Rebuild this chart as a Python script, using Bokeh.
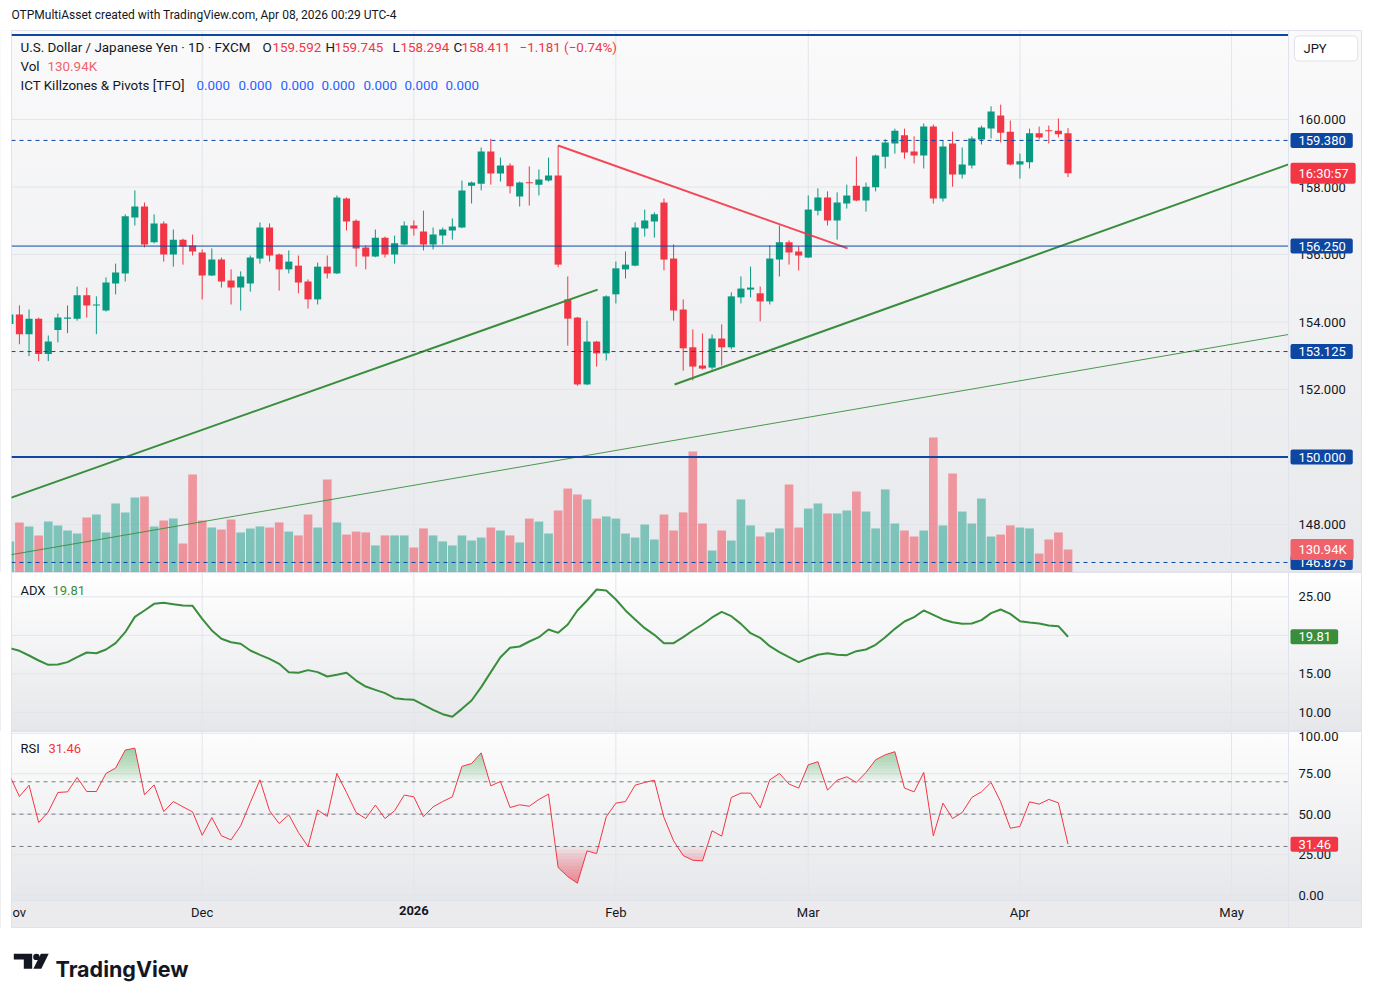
import numpy as np
from bokeh.plotting import figure
from bokeh.models import (Range1d, FixedTicker, Label, ColumnDataSource, Span, LinearAxis,
                          NumeralTickFormatter)
from bokeh.layouts import column
from bokeh.embed import file_html
from bokeh.resources import INLINE
from bokeh.core.properties import value

# ---------------- data ----------------
opens = [153.94, 154.22, 153.64, 154.10, 153.05, 153.76, 154.10, 154.10, 154.79, 154.49,
         154.34, 155.14, 155.44, 157.10, 157.42, 156.36, 156.92, 156.00, 156.44, 156.27,
         156.06, 155.38, 155.85, 155.23, 155.02, 155.14, 155.88, 156.80, 156.00, 155.56,
         155.67, 155.20, 154.67, 155.64, 155.44, 157.66, 157.00, 156.21, 155.94, 156.50,
         156.00, 156.30, 156.86, 156.68, 156.30, 156.56, 156.71, 156.80, 158.04, 158.10,
         159.05, 158.40, 158.64, 157.72, 158.13, 158.07, 158.19, 158.34, 154.67, 154.13,
         152.15, 153.42, 153.07, 154.82, 155.56, 155.67, 156.77, 156.98, 157.54, 155.88,
         154.37, 153.25, 152.71, 152.65, 153.51, 153.25, 154.73, 154.96, 154.85, 154.61,
         155.85, 156.36, 156.09, 155.91, 157.30, 157.69, 157.01, 157.51, 158.04, 157.60,
         157.99, 158.90, 159.29, 159.53, 159.05, 158.93, 159.79, 157.66, 159.29, 158.37,
         158.64, 159.41, 159.73, 160.12, 159.64, 158.67, 158.73, 159.59, 159.67, 159.67,
         159.592]
highs = [154.30, 154.49, 154.37, 154.13, 153.60, 154.25, 154.49, 155.05, 155.02, 154.76,
         155.32, 155.73, 157.19, 157.90, 157.54, 157.19, 156.98, 156.74, 156.47, 156.59,
         156.15, 156.18, 155.91, 155.56, 155.50, 155.97, 156.95, 156.92, 156.03, 156.12,
         155.97, 155.26, 155.76, 155.97, 157.75, 157.69, 157.04, 156.27, 156.74, 156.53,
         156.56, 156.98, 157.01, 157.30, 156.80, 156.80, 157.07, 158.19, 158.16, 159.17,
         159.43, 158.87, 158.70, 158.16, 158.61, 158.52, 158.87, 159.23, 155.35, 154.15,
         154.04, 153.44, 154.79, 155.79, 156.09, 156.95, 157.33, 157.25, 157.66, 156.30,
         154.67, 153.78, 153.66, 153.63, 153.93, 154.88, 155.35, 155.64, 155.05, 156.27,
         156.86, 156.42, 156.24, 157.75, 157.96, 157.87, 157.84, 158.07, 158.90, 158.13,
         158.96, 159.41, 159.73, 159.73, 159.50, 159.88, 159.85, 159.38, 159.64, 159.17,
         159.50, 159.82, 160.39, 160.44, 159.97, 158.99, 159.73, 159.79, 159.82, 160.03,
         159.745]
lows = [153.85, 153.34, 152.99, 152.84, 152.84, 153.40, 153.67, 154.04, 154.13, 153.64,
        154.31, 154.82, 155.20, 156.86, 156.21, 156.33, 155.79, 155.64, 155.70, 155.97,
        154.67, 155.36, 155.02, 154.52, 154.34, 154.90, 155.73, 155.79, 154.93, 155.44,
        154.85, 154.40, 154.52, 155.29, 155.42, 156.71, 155.64, 155.56, 155.92, 155.91,
        155.73, 156.27, 156.56, 156.12, 156.15, 156.30, 156.44, 156.78, 157.51, 157.90,
        158.07, 158.16, 157.81, 157.42, 157.45, 157.75, 158.16, 155.62, 153.30, 152.11,
        152.13, 152.68, 152.86, 154.55, 155.29, 155.65, 156.53, 156.50, 155.53, 154.04,
        152.56, 152.27, 152.59, 152.59, 152.71, 153.19, 154.55, 154.73, 154.02, 154.52,
        155.35, 155.70, 155.53, 155.90, 157.16, 156.86, 156.44, 157.36, 157.58, 157.27,
        157.87, 158.55, 158.99, 158.84, 158.70, 158.55, 157.51, 157.57, 158.01, 158.25,
        158.55, 159.26, 159.44, 159.32, 158.64, 158.25, 158.55, 159.41, 159.29, 159.47,
        158.294]
closes = [154.22, 153.64, 154.10, 153.05, 153.42, 154.13, 154.13, 154.79, 154.49, 154.52,
          155.17, 155.47, 157.13, 157.42, 156.30, 156.92, 156.00, 156.44, 156.24, 156.09,
          155.38, 155.85, 155.20, 155.02, 155.35, 155.91, 156.80, 155.97, 155.56, 155.79,
          155.17, 154.67, 155.64, 155.44, 157.69, 156.98, 156.18, 155.94, 156.50, 156.00,
          156.33, 156.86, 156.77, 156.30, 156.59, 156.74, 156.83, 157.90, 158.13, 159.05,
          158.40, 158.64, 158.02, 158.13, 158.11, 158.22, 158.34, 155.70, 154.10, 152.15,
          153.42, 153.07, 154.76, 155.59, 155.70, 156.80, 157.01, 157.19, 155.85, 154.34,
          153.22, 152.68, 152.62, 153.51, 153.25, 154.76, 154.99, 155.02, 154.61, 155.88,
          156.36, 156.06, 155.97, 157.33, 157.69, 157.01, 157.54, 157.75, 157.60, 158.01,
          158.93, 159.32, 159.67, 159.02, 158.93, 159.79, 157.66, 159.20, 158.37, 158.67,
          159.44, 159.76, 160.24, 159.61, 158.67, 158.76, 159.59, 159.47, 159.65, 159.56,
          158.411]
volume_k = [176, 285, 262, 211, 290, 268, 239, 222, 313, 330,
            228, 393, 342, 427, 433, 262, 296, 307, 165, 558,
            296, 256, 245, 302, 228, 251, 262, 256, 285, 233,
            211, 330, 256, 530, 285, 216, 233, 228, 154, 211,
            211, 211, 142, 251, 211, 177, 154, 211, 182, 199,
            256, 239, 211, 171, 307, 290, 222, 353, 478, 444,
            416, 307, 319, 307, 222, 199, 273, 188, 330, 239,
            342, 689, 279, 125, 239, 182, 416, 268, 205, 228,
            251, 501, 256, 364, 393, 336, 336, 353, 461, 347,
            251, 473, 279, 239, 205, 239, 769, 268, 564, 347,
            279, 421, 205, 216, 268, 256, 251, 108, 188, 228,
            130.94]
adx = [18.33, 17.99, 17.38, 16.73, 16.17, 16.21, 16.52, 17.16, 17.77, 17.68,
       18.16, 18.98, 20.41, 22.40, 23.23, 24.09, 24.22, 24.05, 23.87, 23.83,
       22.14, 20.63, 19.55, 19.11, 18.90, 18.03, 17.47, 16.95, 16.30, 15.22,
       15.13, 15.48, 15.22, 14.65, 14.87, 15.13, 14.13, 13.35, 12.92, 12.49,
       11.84, 11.71, 11.62, 10.97, 10.32, 9.76, 9.42, 10.45, 11.54, 13.27,
       15.22, 17.16, 18.38, 18.55, 19.20, 19.76, 20.76, 20.32, 21.41, 23.23,
       24.52, 25.95, 25.82, 24.65, 23.23, 22.06, 20.93, 20.06, 18.98, 18.98,
       19.76, 20.63, 21.41, 22.32, 23.05, 22.49, 21.49, 20.28, 19.68, 18.59,
       17.81, 17.16, 16.52, 17.03, 17.47, 17.68, 17.47, 17.42, 17.94, 18.16,
       18.77, 19.76, 20.84, 21.80, 22.36, 23.23, 22.66, 22.06, 21.71, 21.49,
       21.54, 21.97, 22.88, 23.35, 22.79, 21.84, 21.67, 21.54, 21.28, 21.19,
       19.81]
rsi = [73.7, 60.9, 67.9, 44.8, 51.4, 63.4, 63.8, 72.7, 64.0, 64.0,
       75.2, 78.5, 89.6, 90.8, 62.0, 68.1, 51.6, 57.8, 54.5, 51.4,
       37.0, 47.9, 36.6, 34.1, 42.8, 57.2, 71.2, 52.1, 44.2, 49.6,
       38.7, 30.0, 52.5, 48.6, 75.2, 63.4, 51.0, 47.3, 55.6, 47.3,
       52.1, 61.8, 60.7, 48.4, 54.5, 57.8, 60.7, 79.5, 81.3, 87.9,
       67.5, 70.2, 54.1, 55.8, 54.9, 59.1, 62.4, 17.0, 11.4, 7.3,
       27.3, 25.6, 48.4, 56.8, 57.8, 67.9, 69.6, 71.0, 47.9, 33.5,
       24.4, 21.5, 21.1, 39.7, 36.4, 60.3, 63.0, 63.0, 53.9, 71.2,
       75.2, 68.6, 66.1, 80.5, 82.4, 64.8, 71.0, 73.1, 69.6, 75.8,
       83.6, 86.7, 88.6, 66.1, 63.8, 75.8, 36.6, 56.8, 47.3, 51.0,
       60.3, 63.8, 69.6, 57.6, 41.3, 42.4, 57.6, 56.2, 59.1, 57.0,
       31.46]

month_ticks = [20, 42, 63, 83, 105, 127]          # bar index of first bar of each month
month_labels = ["Dec", "2026", "Feb", "Mar", "Apr", "May"]
price_ticks = [148, 150, 152, 154, 156, 158, 160]
adx_ticks = [10, 15, 20, 25]
rsi_ticks = [0, 25, 50, 75, 100]
rsi_levels = [70, 50, 30]

# horizontal drawings (price levels)
hline_levels = [162.5, 159.38, 156.25, 153.125, 150.0, 146.875]
hline_dash = ["solid", "4 4", "solid", "4 4", "solid", "4 4"]
hline_width = [2, 1, 1, 1, 2, 1]
# trend lines (bar index, price)
trend_green_a_x = [-1.0, 61.1]
trend_green_a_y = [148.68, 154.96]
trend_red_x = [57.0, 87.08]
trend_red_y = [159.23, 156.18]
trend_green_b_x = [69.1, 132.92]
trend_green_b_y = [152.15, 158.67]
trend_green_c_x = [-1.0, 132.92]
trend_green_c_y = [147.05, 153.63]

last_close = closes[-1]
last_vol = volume_k[-1]

# ---------------- style ----------------
FONT = "Roboto"
TXT = "#131722"
UP = "#089981"
DN = "#f23645"
BLUE = "#0d47a1"
GREEN = "#388e3c"
GRID = "#e3e5ea"
EDGE = "#e0e3eb"
W = 1362
X0, XSEP, X1 = 0.177, 132.92, 140.61   # frame left, price-scale edge, frame right

idx = list(range(len(opens)))
cols = [UP if c >= o else DN for o, c in zip(opens, closes)]
btop = [max(o, c) for o, c in zip(opens, closes)]
bbot = [min(o, c) for o, c in zip(opens, closes)]
btop = [t if t - b >= 0.03 else b + 0.03 for t, b in zip(btop, bbot)]
src = ColumnDataSource(dict(x=idx, o=opens, h=highs, l=lows, c=closes, top=btop, bot=bbot,
                            col=cols, vol=volume_k, adx=adx, rsi=rsi))

xr = Range1d(X0, X1)


def pane(height, yr, grad, grid_lo, grid_hi, yticks, fmt):
    p = figure(width=W, height=height, x_range=xr, y_range=yr, output_backend="svg",
               toolbar_location=None, x_axis_location=None, y_axis_location=None,
               min_border_left=11, min_border_right=0, min_border_top=0, min_border_bottom=0,
               border_fill_color="#ffffff", background_fill_color=None,
               outline_line_color=EDGE, outline_line_width=1)
    p.styles = {"background": grad}
    p.grid.visible = False
    # grid
    p.segment(x0=X0, x1=XSEP, y0=yticks, y1=yticks, line_color=GRID, line_width=1)
    p.segment(x0=month_ticks, x1=month_ticks, y0=grid_lo, y1=grid_hi, line_color=GRID,
              line_width=1)
    ax = LinearAxis(fixed_location=XSEP, ticker=FixedTicker(ticks=yticks),
                    formatter=NumeralTickFormatter(format=fmt))
    ax.axis_line_color = None
    ax.major_tick_line_color = None
    ax.minor_tick_line_color = None
    ax.major_tick_out = 0
    ax.major_tick_in = 0
    ax.major_label_standoff = 10
    ax.major_label_text_font = FONT
    ax.major_label_text_font_size = "13px"
    ax.major_label_text_color = TXT
    p.add_layout(ax, "right")
    p.add_layout(Span(location=XSEP, dimension="height", line_color=EDGE, line_width=1))
    return p


def tag(p, y, text, bg, yname="default", tc="white", sx=1279):
    p.add_layout(Label(x=sx, x_units="screen", y=y, y_range_name=yname, text=text,
                       text_color=tc, text_font=FONT, text_font_size="13px",
                       text_baseline="middle", text_align="left",
                       background_fill_color=bg, border_radius=2,
                       padding=dict(left=8, right=7, top=3, bottom=3)))


def txt(p, sx, sy, text, color=TXT, size="13.4px", style="normal", font=FONT,
        baseline="middle"):
    p.add_layout(Label(x=sx, y=sy, x_units="screen", y_units="screen", text=text,
                       text_color=color, text_font=font, text_font_size=size,
                       text_font_style=style, text_baseline=baseline, text_align="left"))


# ---------------- top caption ----------------
p0 = figure(width=W, height=30, output_backend="svg", toolbar_location=None,
            x_axis_location=None, y_axis_location=None, min_border_left=11,
            min_border_right=0, min_border_top=0, min_border_bottom=0,
            x_range=Range1d(11, 1362), y_range=Range1d(0, 30),
            border_fill_color="#ffffff", background_fill_color="#ffffff",
            outline_line_color=None)
p0.grid.visible = False
txt(p0, 0, 16, "OTPMultiAsset created with TradingView.com, Apr 08, 2026 00:29 UTC-4",
    size="12px")

# ---------------- price pane ----------------
P_LO, P_HI = 146.578, 162.637
p1 = pane(542, Range1d(P_LO, P_HI), "linear-gradient(to bottom, #fafafb, #e8e9ec)",
          P_LO, P_HI, price_ticks, "0.000")
p1.extra_y_ranges = {"vol": Range1d(0, 542 * 5.693)}

p1.vbar(x="x", top="vol", bottom=0, width=0.9, fill_color="col", fill_alpha=0.48,
        line_color=None, y_range_name="vol", source=src)
p1.line(trend_green_c_x, trend_green_c_y, line_color=GREEN, line_width=1, line_alpha=0.9)
p1.segment(x0="x", y0="l", x1="x", y1="h", line_color="col", line_width=1, source=src)
p1.vbar(x="x", top="top", bottom="bot", width=0.74, fill_color="col", line_color=None,
        source=src)
p1.line(trend_green_a_x, trend_green_a_y, line_color=GREEN, line_width=2)
p1.line(trend_green_b_x, trend_green_b_y, line_color=GREEN, line_width=2)
p1.line(trend_red_x, trend_red_y, line_color=DN, line_width=2, line_alpha=0.9)
for lv, ds, lw in zip(hline_levels, hline_dash, hline_width):
    p1.line([X0, XSEP], [lv, lv], line_color=BLUE, line_width=lw, line_dash=ds)

# legend rows
txt(p1, 9, 525, "U.S. Dollar / Japanese Yen · 1D · FXCM")
row1 = [(251, "O", TXT), (261, "%.3f" % opens[-1], DN), (314, "H", TXT),
        (323, "%.3f" % highs[-1], DN), (381, "L", TXT), (389, "%.3f" % lows[-1], DN),
        (442, "C", TXT), (450, "%.3f" % last_close, DN),
        (508, "−1.181 (−0.74%)", DN)]
for sx, t, c in row1:
    txt(p1, sx, 525, t, color=c)
txt(p1, 9, 506, "Vol")
txt(p1, 36, 506, "%.2fK" % last_vol, color="#f0626a")
txt(p1, 9, 487, "ICT Killzones & Pivots [TFO]")
for sx in [185, 227, 269, 310, 352, 393, 434]:
    txt(p1, sx, 487, "0.000", color="#2962ff")

# price-scale tags
tag(p1, 159.38, "159.380", BLUE)
tag(p1, last_close, "16:30:57", DN)
tag(p1, 156.25, "156.250", BLUE)
tag(p1, 153.125, "153.125", BLUE)
tag(p1, 150.0, "150.000", BLUE)
tag(p1, 146.875, "146.875", BLUE)
tag(p1, last_vol, "130.94K", "#f0626a", yname="vol")
p1.add_layout(Label(x=1283, x_units="screen", y=524, y_units="screen", text="JPY",
                    text_color=TXT, text_font=FONT, text_font_size="13px",
                    text_baseline="middle", text_align="left",
                    background_fill_color="#ffffff", border_line_color=EDGE,
                    border_radius=4, padding=dict(left=9, right=31, top=5, bottom=5)))

# ---------------- ADX pane ----------------
A_LO, A_HI = 7.51, 28.16
p2 = pane(159, Range1d(A_LO, A_HI), "linear-gradient(to bottom, #ffffff, #e6e7ea)",
          A_LO, A_HI, adx_ticks, "0.00")
p2.line("x", "adx", line_color=GREEN, line_width=2, source=src)
txt(p2, 9, 141, "ADX", size="13px")
txt(p2, 41, 141, "%.2f" % adx[-1], color=GREEN, size="13px")
tag(p2, adx[-1], "%.2f" % adx[-1], GREEN)

# ---------------- RSI pane (+ time scale strip) ----------------
R_LO, R_BASE, R_HI = -20.70, -3.38, 101.10
p3 = pane(197, Range1d(R_LO, R_HI),
          "linear-gradient(to bottom, #fdfdfd 0px, #e6e7ea 169px, #ebebee 169px, #ebebee 100%)",
          R_BASE, R_HI, rsi_ticks, "0.00")
xi = np.linspace(0, len(rsi) - 1, (len(rsi) - 1) * 12 + 1)
ri = np.interp(xi, idx, rsi)
for k in range(15):
    lv = 70 + 2 * k
    p3.varea(x=xi, y1=lv, y2=np.maximum(ri, lv), fill_color="#4caf50", fill_alpha=0.06)
for k in range(15):
    lv = 30 - 2 * k
    p3.varea(x=xi, y1=np.minimum(ri, lv), y2=lv, fill_color=DN, fill_alpha=0.06)
for lv in rsi_levels:
    p3.line([X0, XSEP], [lv, lv], line_color="#787b86", line_width=1, line_dash="4 4")
p3.line("x", "rsi", line_color=DN, line_width=1, source=src)
p3.add_layout(Span(location=R_BASE, dimension="width", line_color=EDGE, line_width=1))

xa = LinearAxis(fixed_location=R_BASE, ticker=FixedTicker(ticks=month_ticks))
xa.major_label_overrides = {t: (l if l != "2026" else " ") for t, l in
                            zip(month_ticks, month_labels)}
xa.axis_line_color = None
xa.major_tick_line_color = None
xa.minor_tick_line_color = None
xa.major_tick_out = 0
xa.major_tick_in = 0
xa.major_label_standoff = 5
xa.major_label_text_font = FONT
xa.major_label_text_font_size = "13px"
xa.major_label_text_color = TXT
p3.add_layout(xa, "below")
p3.add_layout(Label(x=month_ticks[1], y=23, y_units="screen", text="2026", text_color=TXT,
                    text_font=FONT, text_font_size="13px", text_font_style="bold",
                    text_baseline="top", text_align="center"))
txt(p3, 1, 16, "ov", size="13px")
txt(p3, 9, 180, "RSI", size="13px")
txt(p3, 37, 180, "%.2f" % rsi[-1], color=DN, size="13px")
tag(p3, rsi[-1], "%.2f" % rsi[-1], DN)

# ---------------- footer logo ----------------
p4 = figure(width=W, height=68, output_backend="svg", toolbar_location=None,
            x_axis_location=None, y_axis_location=None, min_border_left=11,
            min_border_right=0, min_border_top=0, min_border_bottom=0,
            x_range=Range1d(11, 1362), y_range=Range1d(68, 0),
            border_fill_color="#ffffff", background_fill_color="#ffffff",
            outline_line_color=None)
p4.grid.visible = False
p4.patch([13.3, 31.7, 31.7, 23.3, 23.3, 13.3], [25.3, 25.3, 40.3, 40.3, 31.0, 31.0],
         fill_color="#131722", line_color=None)
p4.ellipse(x=[35.9], y=[28.4], width=6.4, height=6.4, fill_color="#131722", line_color=None)
p4.patch([40.4, 48.2, 40.8, 32.9], [25.3, 25.3, 40.3, 40.3], fill_color="#131722",
         line_color=None)
p4.text(x=[55], y=[40.3], text=["TradingView"], text_font=value("Inter"),
        text_font_style="bold", text_font_size="21.5px", text_color="#131722",
        text_baseline="alphabetic")

layout = column(p0, p1, p2, p3, p4, spacing=0)
open("out.html", "w").write(file_html(layout, INLINE))
